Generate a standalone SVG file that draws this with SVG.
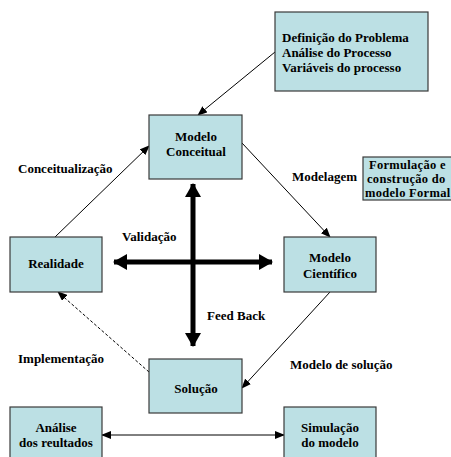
<svg xmlns="http://www.w3.org/2000/svg" width="451" height="457" viewBox="0 0 451 457">
<style>
.box{fill:#bce0e4;stroke:#3a3a3a;stroke-width:1.2}
text{font-family:'Liberation Serif','Times New Roman','DejaVu Serif',serif;font-weight:bold;font-size:13px;fill:#000}
.c{text-anchor:middle}
.f{font-size:12.5px;letter-spacing:0.3px}
.ln{stroke:#000;stroke-width:1;fill:none}
.big{stroke:#000;stroke-width:5;fill:none}
</style>
<defs>
<marker id="ah" markerWidth="10" markerHeight="8" refX="9" refY="4" orient="auto" markerUnits="userSpaceOnUse"><path d="M0,0 L10,4 L0,8 Z" fill="#000"/></marker>
<marker id="ahs" markerWidth="10" markerHeight="8" refX="1" refY="4" orient="auto" markerUnits="userSpaceOnUse"><path d="M10,0 L0,4 L10,8 Z" fill="#000"/></marker>
<marker id="bh" markerWidth="14" markerHeight="16" refX="13" refY="8" orient="auto" markerUnits="userSpaceOnUse"><path d="M0,0 L14,8 L0,16 Z" fill="#000"/></marker>
</defs>
<g id="connectors">
<line class="ln" x1="275" y1="52" x2="198" y2="115" marker-end="url(#ah)"/>
<line class="ln" x1="55" y1="237" x2="149" y2="146" marker-end="url(#ah)"/>
<line class="ln" x1="242" y1="143" x2="330" y2="237" marker-end="url(#ah)"/>
<line class="ln" x1="330" y1="292" x2="242" y2="388" marker-end="url(#ah)"/>
<line class="ln" x1="149" y1="372" x2="58" y2="292" stroke-dasharray="3,2" marker-end="url(#ah)"/>
<line class="ln" x1="102" y1="435" x2="284" y2="435" marker-start="url(#ahs)" marker-end="url(#ah)"/>
<line class="big" x1="193" y1="262" x2="193" y2="184" marker-end="url(#bh)"/>
<line class="big" x1="193" y1="262" x2="193" y2="346" marker-end="url(#bh)"/>
<line class="big" x1="193" y1="262" x2="114" y2="262" marker-end="url(#bh)"/>
<line class="big" x1="193" y1="262" x2="272" y2="262" marker-end="url(#bh)"/>
</g>
<g id="problema">
<rect class="box" x="275" y="12" width="153" height="79"/>
<text x="282" y="42">Definição do Problema</text>
<text x="282" y="57">Análise do Processo</text>
<text x="282" y="72">Variáveis do processo</text>
</g>
<g id="modelo-conceitual">
<rect class="box" x="149" y="115" width="93" height="64"/>
<text class="c" x="196" y="141">Modelo</text>
<text class="c" x="196" y="156">Conceitual</text>
</g>
<g id="formulacao">
<rect class="box" x="363" y="157" width="95" height="43"/>
<text class="f" x="369" y="169">Formulação e</text>
<text class="f" x="367" y="183">construção do</text>
<text class="f" x="365" y="197">modelo Formal</text>
</g>
<g id="realidade">
<rect class="box" x="10" y="237" width="92" height="55"/>
<text class="c" x="56" y="268">Realidade</text>
</g>
<g id="modelo-cientifico">
<rect class="box" x="284" y="237" width="92" height="55"/>
<text class="c" x="330" y="262">Modelo</text>
<text class="c" x="330" y="278">Científico</text>
</g>
<g id="solucao">
<rect class="box" x="149" y="359" width="93" height="54"/>
<text class="c" x="196" y="393">Solução</text>
</g>
<g id="analise">
<rect class="box" x="10" y="407" width="92" height="60"/>
<text class="c" x="56" y="432">Análise</text>
<text class="c" x="56" y="447">dos reultados</text>
</g>
<g id="simulacao">
<rect class="box" x="284" y="407" width="92" height="60"/>
<text class="c" x="330" y="432">Simulação</text>
<text class="c" x="330" y="447">do modelo</text>
</g>
<g id="labels">
<text x="18" y="173">Conceitualização</text>
<text x="292" y="181">Modelagem</text>
<text x="122" y="241">Validação</text>
<text x="207" y="320">Feed Back</text>
<text x="18" y="363">Implementação</text>
<text x="290" y="369">Modelo de solução</text>
</g>
</svg>
